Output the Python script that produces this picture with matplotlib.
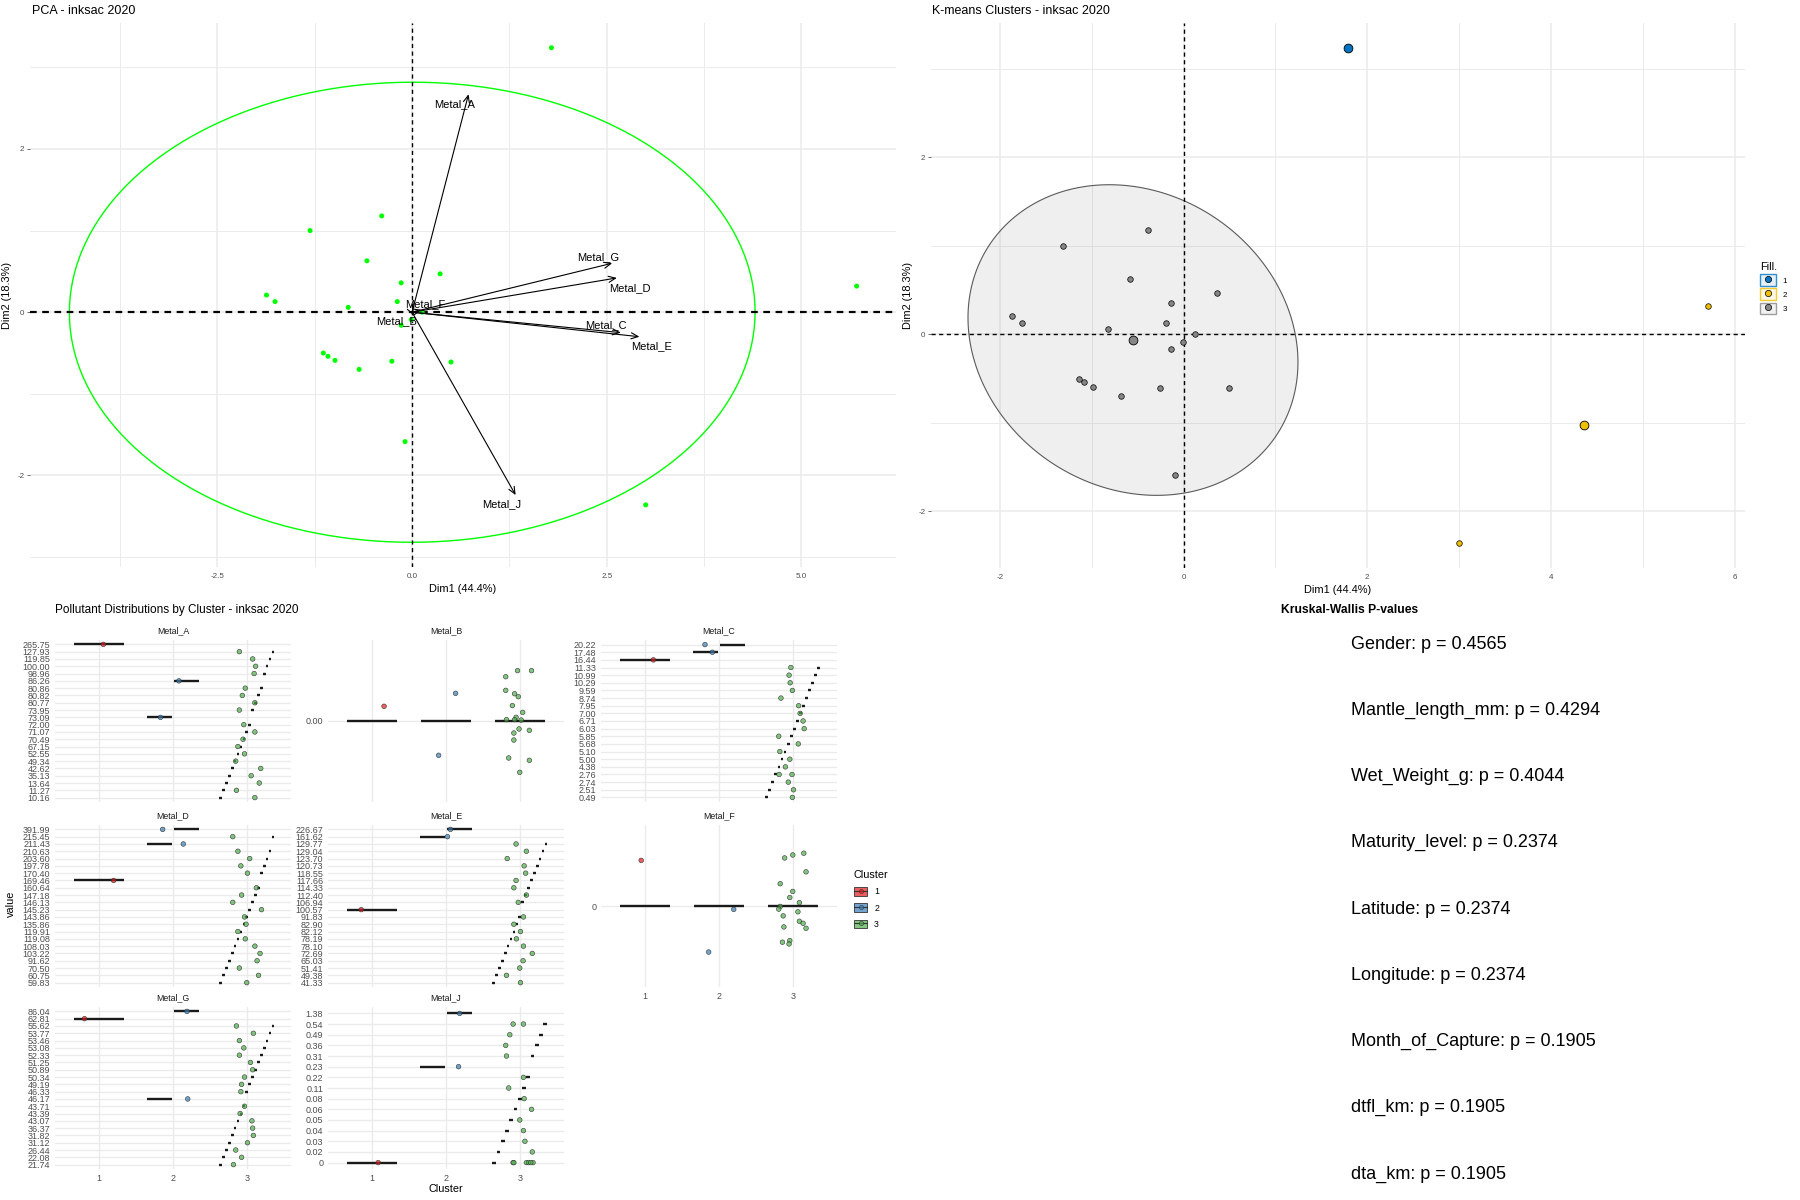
import numpy as np
import matplotlib
matplotlib.use("Agg")
import matplotlib.pyplot as plt
from matplotlib.patches import Patch
from matplotlib.lines import Line2D
from matplotlib.legend_handler import HandlerTuple
from matplotlib.colors import to_rgba

plt.rcParams['font.family'] = ['Liberation Sans', 'DejaVu Sans']

# ---------------- data ----------------
sample_dim1 = [1.79, 5.71, 3.00, -0.39, -1.31, -0.58, 0.36, -0.14, -1.87, -1.76, -0.82,
               -0.19, 0.13, -0.01, -0.14, -1.14, -1.08, -0.99, -0.68, -0.26, 0.50, -0.09]
sample_dim2 = [3.24, 0.32, -2.36, 1.18, 1.00, 0.63, 0.47, 0.36, 0.21, 0.13, 0.06,
               0.13, 0.00, -0.09, -0.16, -0.50, -0.54, -0.59, -0.70, -0.60, -0.61, -1.585]
sample_cluster = [1, 2, 2, 3, 3, 3, 3, 3, 3, 3, 3, 3, 3, 3, 3, 3, 3, 3, 3, 3, 3, 3]
dim1_pct = 44.4
dim2_pct = 18.3

var_names = ["Metal_A", "Metal_B", "Metal_C", "Metal_D", "Metal_E", "Metal_F", "Metal_G", "Metal_J"]
var_dim1 = [0.725, 0.02, 2.68, 2.63, 2.92, 0.12, 2.57, 1.33]
var_dim2 = [2.67, -0.04, -0.25, 0.42, -0.30, 0.03, 0.60, -2.24]

# facet data (values shown as factor levels), clusters, jitter
A_values = ["265.75", "127.93", "119.85", "100.00", "98.96", "86.26", "80.86", "80.82", "80.77", "73.95", "73.09",
            "72.00", "71.07", "70.49", "67.15", "52.55", "49.34", "42.62", "35.13", "13.64", "11.27", "10.16"]
A_cluster = [1, 3, 3, 3, 3, 2, 3, 3, 3, 3, 2, 3, 3, 3, 3, 3, 3, 3, 3, 3, 3, 3]
A_jitter_x = [0.055, -0.10, 0.08, 0.12, 0.10, 0.08, -0.02, -0.06, 0.11, -0.10, -0.17,
              -0.04, 0.11, -0.05, -0.12, -0.03, -0.15, 0.19, 0.06, 0.17, -0.14, 0.11]

B_values = ["0.00", "0.00", "0.00", "0.00", "0.00", "0.00", "0.00", "0.00", "0.00", "0.00", "0.00",
            "0.00", "0.00", "0.00", "0.00", "0.00", "0.00", "0.00", "0.00", "0.00", "0.00", "0.00"]
B_cluster = [1, 2, 2, 3, 3, 3, 3, 3, 3, 3, 3, 3, 3, 3, 3, 3, 3, 3, 3, 3, 3, 3]
B_jitter_x = [0.16, 0.13, -0.10, -0.19, -0.03, 0.16, -0.19, -0.07, -0.02, -0.10, 0.04,
              -0.05, -0.18, -0.07, 0.02, -0.01, -0.08, 0.13, -0.08, -0.15, 0.13, 0.0]
B_jitter_y = [0.109, 0.205, -0.254, 0.328, 0.373, 0.373, 0.227, 0.202, 0.18, 0.114, 0.064,
              0.027, 0.01, 0.01, 0.007, -0.059, -0.089, -0.069, -0.141, -0.274, -0.291, -0.380]

C_values = ["20.22", "17.48", "16.44", "11.33", "10.99", "10.29", "9.59", "8.74", "7.95", "7.00", "6.71",
            "6.03", "5.85", "5.68", "5.10", "5.00", "4.38", "2.76", "2.76", "2.74", "2.51", "0.49"]
C_cluster = [2, 2, 1, 3, 3, 3, 3, 3, 3, 3, 3, 3, 3, 3, 3, 3, 3, 3, 3, 3, 3, 3]
C_jitter_x = [-0.19, -0.09, 0.11, -0.025, -0.05, -0.035, -0.005, -0.16, 0.08, 0.10, 0.14,
              0.155, -0.19, 0.075, -0.175, -0.04, -0.10, -0.01, -0.185, -0.06, 0.01, -0.005]

D_values = ["391.99", "215.45", "211.43", "210.63", "203.60", "197.78", "170.40", "169.46", "160.64", "147.18", "146.13",
            "145.23", "143.86", "135.86", "119.91", "119.08", "108.03", "103.22", "91.62", "70.50", "60.75", "59.83"]
D_cluster = [2, 3, 2, 3, 3, 3, 3, 1, 3, 3, 3, 3, 3, 3, 3, 3, 3, 3, 3, 3, 3, 3]
D_jitter_x = [-0.14, -0.19, 0.14, -0.12, 0.04, -0.08, 0.01, 0.195, 0.13, -0.07, -0.19,
              0.20, -0.03, -0.01, -0.12, -0.02, 0.11, 0.18, 0.14, -0.10, 0.16, 0.0]

E_values = ["226.67", "161.62", "129.77", "129.04", "123.70", "120.73", "118.55", "117.66", "114.33", "112.40", "106.94",
            "100.57", "91.83", "82.90", "82.12", "78.19", "78.10", "72.69", "65.03", "51.41", "49.38", "41.33"]
E_cluster = [2, 2, 3, 3, 3, 3, 3, 3, 3, 3, 3, 1, 3, 3, 3, 3, 3, 3, 3, 3, 3, 3]
E_jitter_x = [0.06, 0.02, -0.05, 0.09, -0.17, 0.06, 0.08, -0.05, -0.08, 0.09, -0.02,
              -0.15, 0.05, -0.08, 0.01, -0.045, 0.05, 0.17, 0.045, 0.0, -0.18, 0.01]

F_values = ["0", "0", "0", "0", "0", "0", "0", "0", "0", "0", "0",
            "0", "0", "0", "0", "0", "0", "0", "0", "0", "0", "0"]
F_cluster = [1, 2, 2, 3, 3, 3, 3, 3, 3, 3, 3, 3, 3, 3, 3, 3, 3, 3, 3, 3, 3, 3]
F_jitter_x = [-0.055, 0.20, -0.14, -0.11, 0.0, 0.15, 0.18, -0.17, 0.0, -0.04, 0.09,
              -0.17, -0.19, 0.07, -0.13, 0.09, 0.14, 0.18, -0.12, -0.14, -0.04, -0.05]
F_jitter_y = [0.338, -0.025, -0.341, 0.356, 0.378, 0.391, 0.253, 0.165, 0.108, 0.063, 0.025,
              -0.003, -0.023, -0.043, -0.073, -0.113, -0.128, -0.165, -0.155, -0.268, -0.256, -0.281]

G_values = ["86.04", "62.81", "55.62", "53.77", "53.46", "53.08", "52.33", "51.25", "50.89", "50.34", "49.19",
            "46.33", "46.17", "43.71", "43.39", "43.07", "36.37", "31.82", "31.12", "26.44", "22.08", "21.74"]
G_cluster = [2, 1, 3, 3, 3, 3, 3, 3, 3, 3, 3, 3, 2, 3, 3, 3, 3, 3, 3, 3, 3, 3]
G_jitter_x = [0.19, -0.20, -0.14, 0.09, -0.10, -0.04, -0.10, 0.05, 0.08, -0.03, -0.07,
              -0.08, 0.20, -0.03, -0.09, 0.07, 0.08, 0.09, 0.01, -0.15, -0.07, -0.18]

J_values = ["1.38", "0.54", "0.54", "0.49", "0.36", "0.31", "0.23", "0.22", "0.11", "0.08", "0.06",
            "0.05", "0.04", "0.03", "0.02", "0", "0", "0", "0", "0", "0", "0"]
J_cluster = [2, 3, 3, 3, 3, 3, 2, 3, 3, 3, 3, 3, 3, 3, 3, 1, 3, 3, 3, 3, 3, 3]
J_jitter_x = [0.185, -0.09, 0.05, -0.135, -0.19, -0.18, 0.17, 0.05, -0.15, 0.06, 0.16,
              0.0, 0.05, 0.07, 0.17, 0.08, -0.09, -0.08, 0.09, 0.12, 0.18, 0.15]

kw_vars = ["Gender", "Mantle_length_mm", "Wet_Weight_g", "Maturity_level", "Latitude",
           "Longitude", "Month_of_Capture", "dtfl_km", "dta_km"]
kw_pvalues = [0.4565, 0.4294, 0.4044, 0.2374, 0.2374, 0.2374, 0.1905, 0.1905, 0.1905]

# ---------------- layout / style ----------------
W, H = 1800, 1200
fig = plt.figure(figsize=(18, 12), dpi=100)
fig.patch.set_facecolor("white")


def ax_px(left, top, right, bottom):
    return fig.add_axes([left / W, 1 - bottom / H, (right - left) / W, (bottom - top) / H])


GRID = "#EBEBEB"
TICKC = "#4D4D4D"
jco = {1: "#0073C2", 2: "#EFC000", 3: "#868686"}
set1 = {1: "#E41A1C", 2: "#377EB8", 3: "#4DAF4A"}

# label offsets for variable arrows (layout)
var_label_dx = [-0.18, -0.22, -0.19, 0.17, 0.15, 0.05, -0.18, -0.18]
var_label_dy = [-0.12, -0.07, 0.09, -0.12, -0.12, 0.07, 0.08, -0.11]


def norm_ellipse(x, y, level=0.95, npts=361):
    x = np.asarray(x, float)
    y = np.asarray(y, float)
    n = len(x)
    cov = np.cov(np.vstack([x, y]))
    dfd = n - 1
    fq = dfd / 2.0 * ((1 - level) ** (-2.0 / dfd) - 1.0)   # qf(level, 2, dfd)
    radius = np.sqrt(2 * fq)
    L = np.linalg.cholesky(cov)
    t = np.linspace(0, 2 * np.pi, npts)
    pts = L @ np.vstack([np.cos(t), np.sin(t)]) * radius
    return x.mean() + pts[0], y.mean() + pts[1]


def expand(lo, hi, f=0.05):
    d = hi - lo
    return lo - f * d, hi + f * d


def style_scatter_axes(ax, xmaj, xmin_, ymaj, ymin_, xlabels, ylabels):
    for s in ax.spines.values():
        s.set_visible(False)
    ax.set_xticks(xmaj)
    ax.set_xticklabels(xlabels)
    ax.set_xticks(xmin_, minor=True)
    ax.set_yticks(ymaj)
    ax.set_yticklabels(ylabels)
    ax.set_yticks(ymin_, minor=True)
    ax.grid(which="major", color=GRID, lw=1.1)
    ax.grid(which="minor", color=GRID, lw=0.7)
    ax.set_axisbelow(True)
    ax.tick_params(axis="x", which="major", length=0, labelsize=5.8, labelcolor=TICKC, pad=4)
    ax.tick_params(axis="y", which="major", length=2, width=0.5, color="#333333",
                   labelsize=5.8, labelcolor=TICKC, pad=2)
    ax.tick_params(which="minor", length=0)
    ax.set_xlabel(f"Dim1 ({dim1_pct}%)", fontsize=7.9, labelpad=3)
    ax.set_ylabel(f"Dim2 ({dim2_pct}%)", fontsize=7.9, labelpad=4)


# ---------------- PCA panel ----------------
ax1 = ax_px(30, 23, 896, 567)
ex, ey = norm_ellipse(sample_dim1, sample_dim2)
ax1.plot(ex, ey, color="#00FF00", lw=1.0, zorder=2)
ax1.scatter(sample_dim1, sample_dim2, s=13, color="#00FF00", edgecolors="none", zorder=3)
ax1.axhline(0, color="black", ls=(0, (3, 2.5)), lw=1.6, zorder=2)
ax1.axvline(0, color="black", ls=(0, (3, 2.5)), lw=1.0, zorder=2)
for name, vx, vy, dx, dy in zip(var_names, var_dim1, var_dim2, var_label_dx, var_label_dy):
    ax1.annotate("", xy=(vx, vy), xytext=(0, 0),
                 arrowprops=dict(arrowstyle="->,head_length=0.5,head_width=0.22",
                                 color="black", lw=0.8, shrinkA=0, shrinkB=0), zorder=4)
    ax1.text(vx + dx, vy + dy, name, fontsize=8, ha="center", va="center", zorder=5)
allx = list(sample_dim1) + list(ex) + var_dim1
ally = list(sample_dim2) + list(ey) + var_dim2
ax1.set_xlim(*expand(min(allx), max(allx)))
ax1.set_ylim(*expand(min(ally), max(ally)))
style_scatter_axes(ax1, [-2.5, 0, 2.5, 5.0], [-3.75, -1.25, 1.25, 3.75],
                   [-2, 0, 2], [-3, -1, 1, 3], ["-2.5", "0.0", "2.5", "5.0"], ["-2", "0", "2"])
fig.text(32 / W, 1 - 11 / H, "PCA - inksac 2020", fontsize=9, ha="left", va="center")

# ---------------- K-means panel ----------------
ax2 = ax_px(931, 23, 1745, 568)
d1 = np.array(sample_dim1)
d2 = np.array(sample_dim2)
cl = np.array(sample_cluster)
kx, ky = norm_ellipse(d1[cl == 3], d2[cl == 3])
ax2.fill(kx, ky, facecolor=to_rgba(jco[3], 0.13), edgecolor="#5a5a5a", lw=0.8, zorder=2)
ax2.axhline(0, color="black", ls=(0, (3, 2.5)), lw=1.0, zorder=2)
ax2.axvline(0, color="black", ls=(0, (3, 2.5)), lw=1.0, zorder=2)
for c in (1, 2, 3):
    m = cl == c
    ax2.scatter(d1[m], d2[m], s=16, color=jco[c], edgecolors="black", linewidths=0.5, zorder=4)
    ax2.scatter([d1[m].mean()], [d2[m].mean()], s=40, color=jco[c], edgecolors="black",
                linewidths=0.6, zorder=5)
allx = list(d1) + list(kx)
ally = list(d2) + list(ky)
ax2.set_xlim(*expand(min(allx), max(allx)))
ax2.set_ylim(*expand(min(ally), max(ally)))
style_scatter_axes(ax2, [-2, 0, 2, 4, 6], [-1, 1, 3, 5], [-2, 0, 2], [-1, 1, 3],
                   ["-2", "0", "2", "4", "6"], ["-2", "0", "2"])
fig.text(932 / W, 1 - 11 / H, "K-means Clusters - inksac 2020", fontsize=9, ha="left", va="center")

k_handles = []
for c in (1, 2, 3):
    k_handles.append((Patch(facecolor=to_rgba(jco[c], 0.10), edgecolor=to_rgba(jco[c], 0.8), lw=1.0),
                      Line2D([0], [0], ls="none", marker="o", markersize=4.5,
                             markerfacecolor=jco[c], markeredgecolor="black", markeredgewidth=0.5)))
leg = fig.legend(k_handles, ["1", "2", "3"], title="Fill.", loc="upper left",
                 bbox_to_anchor=(1760 / W, 1 - 262 / H), frameon=False, fontsize=5.8,
                 title_fontsize=7.9, handlelength=2.0, handleheight=1.85, labelspacing=0.3,
                 handletextpad=0.8, borderpad=0, borderaxespad=0, alignment="left",
                 handler_map={tuple: HandlerTuple(ndivide=1, pad=0)})

# ---------------- facet panels ----------------
facets = [
    ("Metal_A", A_values, A_cluster, A_jitter_x, None),
    ("Metal_B", B_values, B_cluster, B_jitter_x, B_jitter_y),
    ("Metal_C", C_values, C_cluster, C_jitter_x, None),
    ("Metal_D", D_values, D_cluster, D_jitter_x, None),
    ("Metal_E", E_values, E_cluster, E_jitter_x, None),
    ("Metal_F", F_values, F_cluster, F_jitter_x, F_jitter_y),
    ("Metal_G", G_values, G_cluster, G_jitter_x, None),
    ("Metal_J", J_values, J_cluster, J_jitter_x, None),
]
col_left = [55, 328, 601]
row_top = [640, 825, 1007]
panel_w, panel_h = 236, 162
bottom_panels = {"Metal_F", "Metal_G", "Metal_J"}

for i, (name, vals, clus, jx, jy) in enumerate(facets):
    r, c = divmod(i, 3)
    ax = ax_px(col_left[c], row_top[r], col_left[c] + panel_w, row_top[r] + panel_h)
    levels = sorted(set(vals), key=float)
    idx = {v: k for k, v in enumerate(levels)}
    n = len(levels)
    # boxplots collapsed to medians, dodged by level within cluster
    for cc in (1, 2, 3):
        lv = sorted({idx[v] for v, q in zip(vals, clus) if q == cc})
        nl = len(lv)
        w = 0.75 / nl
        for k, li in enumerate(lv):
            xc = cc - 0.375 + (k + 0.5) * w
            ax.plot([xc - 0.45 * w, xc + 0.45 * w], [li, li], color="#1a1a1a", lw=1.7,
                    solid_capstyle="butt", zorder=3)
    xs = [q + j for q, j in zip(clus, jx)]
    ys = [idx[v] + (jy[k] if jy is not None else 0.0) for k, v in enumerate(vals)]
    cols = [to_rgba(set1[q], 0.7) for q in clus]
    ax.scatter(xs, ys, s=11, c=cols, edgecolors="#333333", linewidths=0.4, zorder=4)
    ax.set_xlim(0.4, 3.6)
    ax.set_ylim(-0.6, n - 1 + 0.6)
    ax.set_yticks(range(n))
    ax.set_yticklabels(levels)
    ax.set_xticks([1, 2, 3])
    if name in bottom_panels:
        ax.set_xticklabels(["1", "2", "3"])
    else:
        ax.set_xticklabels([])
    for s in ax.spines.values():
        s.set_visible(False)
    ax.grid(True, color=GRID, lw=1.0)
    ax.set_axisbelow(True)
    ax.tick_params(length=0, labelsize=6.5, labelcolor=TICKC)
    ax.tick_params(axis="y", pad=3.5)
    ax.tick_params(axis="x", pad=3.5)
    ax.text(0.5, 1 + 9 / panel_h, name, transform=ax.transAxes, ha="center", va="center",
            fontsize=6.3, color="#1a1a1a")

fig.text(55 / W, 1 - 610 / H, "Pollutant Distributions by Cluster - inksac 2020", fontsize=8.5,
         ha="left", va="center")
fig.text(11 / W, 1 - 904 / H, "value", rotation=90, fontsize=7.8, ha="center", va="center")
fig.text(446 / W, 1 - 1189 / H, "Cluster", fontsize=7.8, ha="center", va="center")

c_handles = []
for cc in (1, 2, 3):
    c_handles.append((Patch(facecolor=to_rgba(set1[cc], 0.7), edgecolor="#333333", lw=0.6),
                      Line2D([0], [0], color="#333333", lw=0.8, marker="o", markersize=3,
                             markerfacecolor=to_rgba(set1[cc], 0.7), markeredgecolor="#333333",
                             markeredgewidth=0.4)))
fig.legend(c_handles, ["1", "2", "3"], title="Cluster", loc="upper left",
           bbox_to_anchor=(854 / W, 1 - 870 / H), frameon=False, fontsize=6.3,
           title_fontsize=7.8, handlelength=1.5, handleheight=1.15, labelspacing=0.8,
           handletextpad=0.8, borderpad=0, borderaxespad=0, alignment="left",
           handler_map={tuple: HandlerTuple(ndivide=1, pad=0)})

# ---------------- Kruskal-Wallis panel ----------------
fig.text(1350 / W, 1 - 610 / H, "Kruskal-Wallis P-values", fontsize=8.7, fontweight="bold",
         ha="center", va="center")
ax4 = ax_px(1351, 644, 1800, 1174)
ax4.set_xlim(0, 1)
ax4.set_ylim(len(kw_vars) - 1, 0)
ax4.axis("off")
for k, (v, p) in enumerate(zip(kw_vars, kw_pvalues)):
    ax4.text(0, k, f"{v}: p = {p:.4f}", fontsize=13, ha="left", va="center")

fig.savefig("out.png", dpi=100, facecolor="white")
